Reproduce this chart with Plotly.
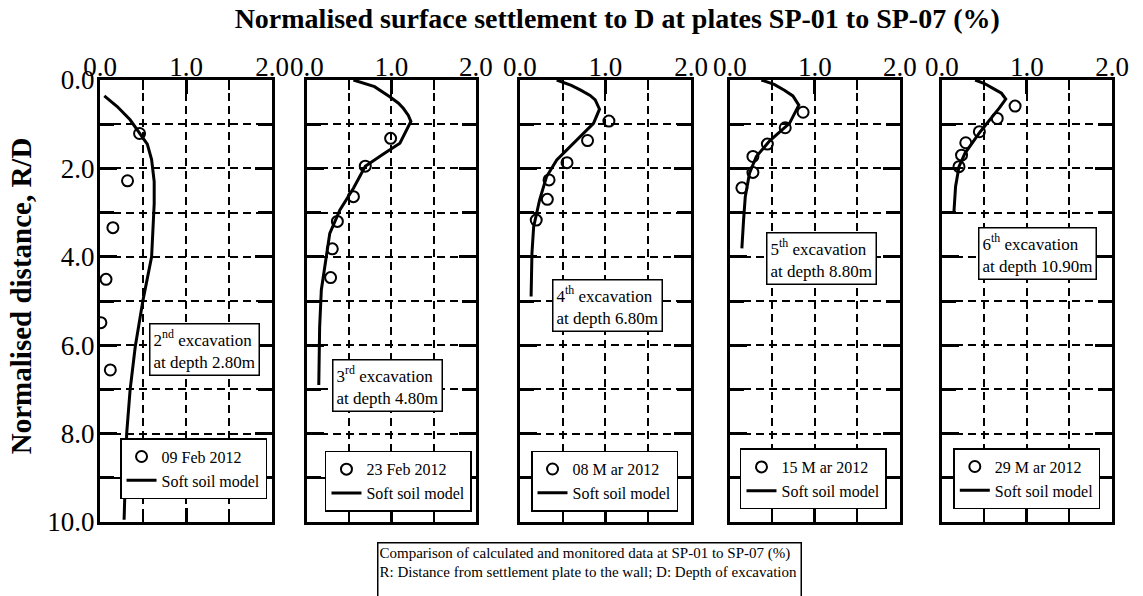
import plotly.graph_objects as go

# measured settlement (x, % of D) vs normalised distance R/D (y)
sp_feb09_x = [0.46, 0.32, 0.15, 0.07, 0.01, 0.12]
sp_feb09_y = [1.21, 2.28, 3.34, 4.51, 5.49, 6.56]
sp_feb23_x = [0.99, 0.69, 0.55, 0.36, 0.30, 0.28]
sp_feb23_y = [1.32, 1.95, 2.64, 3.20, 3.82, 4.47]
sp_mar08_x = [1.04, 0.79, 0.55, 0.34, 0.32, 0.19]
sp_mar08_y = [0.93, 1.37, 1.87, 2.26, 2.70, 3.17]
sp_mar15_x = [0.86, 0.65, 0.44, 0.27, 0.27, 0.14]
sp_mar15_y = [0.73, 1.08, 1.45, 1.73, 2.09, 2.44]
sp_mar29_x = [0.86, 0.65, 0.44, 0.28, 0.23, 0.20]
sp_mar29_y = [0.59, 0.87, 1.17, 1.42, 1.70, 1.96]

# soft soil model curves
ssm_2_x = [0.05, 0.20, 0.35, 0.46, 0.55, 0.60, 0.63, 0.63, 0.60, 0.50, 0.41, 0.35, 0.31, 0.28]
ssm_2_y = [0.36, 0.60, 0.90, 1.20, 1.45, 1.80, 2.30, 2.80, 4.00, 4.98, 6.03, 7.01, 8.00, 9.95]
ssm_3_x = [0.55, 0.80, 0.98, 1.08, 1.14, 1.20, 1.23, 1.10, 0.90, 0.69, 0.55, 0.39, 0.27, 0.22, 0.17, 0.15, 0.14]
ssm_3_y = [0.00, 0.15, 0.38, 0.52, 0.64, 0.80, 0.94, 1.43, 1.68, 1.95, 2.45, 2.94, 3.47, 4.07, 4.75, 5.60, 6.90]
ssm_4_x = [0.43, 0.60, 0.71, 0.82, 0.88, 0.93, 0.86, 0.63, 0.43, 0.31, 0.23, 0.16, 0.14, 0.13]
ssm_4_y = [0.00, 0.12, 0.23, 0.35, 0.45, 0.66, 0.98, 1.43, 1.81, 2.19, 2.71, 3.32, 3.92, 4.90]
ssm_5_x = [0.37, 0.52, 0.64, 0.74, 0.81, 0.70, 0.47, 0.31, 0.23, 0.18, 0.16, 0.14]
ssm_5_y = [0.00, 0.10, 0.23, 0.36, 0.57, 0.98, 1.37, 1.73, 2.11, 2.64, 3.17, 3.81]
ssm_6_x = [0.39, 0.50, 0.60, 0.70, 0.75, 0.68, 0.45, 0.27, 0.20, 0.16, 0.14]
ssm_6_y = [0.00, 0.08, 0.19, 0.30, 0.43, 0.62, 1.17, 1.66, 1.96, 2.41, 3.00]

dates = ["09 Feb 2012", "23 Feb 2012", "08 M ar 2012", "15 M ar 2012", "29 M ar 2012"]
stages = [
    "2<sup>nd</sup> excavation<br>at depth 2.80m",
    "3<sup>rd</sup> excavation<br>at depth 4.80m",
    "4<sup>th</sup> excavation<br>at depth 6.80m",
    "5<sup>th</sup> excavation<br>at depth 8.80m",
    "6<sup>th</sup> excavation<br>at depth 10.90m",
]
stage_pos = [(1.22, 6.1), (0.95, 6.91), (1.02, 5.11), (1.08, 4.03), (1.12, 3.92)]

measured = [
    (sp_feb09_x, sp_feb09_y), (sp_feb23_x, sp_feb23_y), (sp_mar08_x, sp_mar08_y),
    (sp_mar15_x, sp_mar15_y), (sp_mar29_x, sp_mar29_y),
]
model = [(ssm_2_x, ssm_2_y), (ssm_3_x, ssm_3_y), (ssm_4_x, ssm_4_y),
         (ssm_5_x, ssm_5_y), (ssm_6_x, ssm_6_y)]

domains = [(0.0, 0.170), (0.2045, 0.3715), (0.415, 0.584), (0.6225, 0.7905), (0.832, 1.0)]
# legend box centres (paper coords)
legend_pos = [(0.0198, 0.1208), (0.2223, 0.0921), (0.4259, 0.0925), (0.6324, 0.0973), (0.8432, 0.0982)]

FONT = "Liberation Serif, Times New Roman, serif"
DASH = "8px,5px"

fig = go.Figure()
layout = {}
for i in range(5):
    n = "" if i == 0 else str(i + 1)
    lg = "legend" if i == 0 else f"legend{i + 1}"
    mx, my = measured[i]
    cx, cy = model[i]
    fig.add_trace(go.Scatter(
        x=mx, y=my, mode="markers", name=dates[i], legend=lg,
        xaxis=f"x{n}", yaxis=f"y{n}",
        marker=dict(symbol="circle-open", size=11, color="black", line=dict(width=2)),
    ))
    fig.add_trace(go.Scatter(
        x=cx, y=cy, mode="lines", name="Soft soil model", legend=lg,
        xaxis=f"x{n}", yaxis=f"y{n}",
        line=dict(color="black", width=3),
    ))
    layout[f"xaxis{n}"] = dict(
        domain=domains[i], anchor=f"y{n}", side="top", range=[0, 2],
        dtick=1, tickformat=".1f", ticks="inside", ticklen=14, tickwidth=3,
        tickcolor="black", showline=True, linewidth=3, linecolor="black",
        mirror="ticks", showgrid=True, gridcolor="black", gridwidth=1.5,
        griddash=DASH, zeroline=False, ticklabelstandoff=-10,
        tickfont=dict(family=FONT, size=27, color="black"),
        minor=dict(dtick=0.5, ticks="inside", ticklen=10, tickwidth=2,
                   tickcolor="black", showgrid=True, gridcolor="black",
                   gridwidth=1.5, griddash=DASH),
    )
    layout[f"yaxis{n}"] = dict(
        domain=[0, 1], anchor=f"x{n}", range=[10, 0],
        dtick=2, tickformat=".1f", ticks="inside", ticklen=17, tickwidth=3,
        tickcolor="black", showline=True, linewidth=3, linecolor="black",
        mirror="ticks", showgrid=True, gridcolor="black", gridwidth=1.5,
        griddash=DASH, zeroline=False, showticklabels=(i == 0),
        ticklabelstandoff=-3,
        tickfont=dict(family=FONT, size=27, color="black"),
        minor=dict(dtick=1, ticks="inside", ticklen=14, tickwidth=3,
                   tickcolor="black", showgrid=True, gridcolor="black",
                   gridwidth=1.5, griddash=DASH),
    )
    lx, ly = legend_pos[i]
    layout[lg] = dict(
        x=lx, y=ly, xanchor="left", yanchor="middle", bgcolor="white",
        bordercolor="black", borderwidth=1.5, tracegroupgap=0,
        font=dict(family=FONT, size=16, color="black"), itemwidth=30,
    )

annotations = []
for i in range(5):
    n = "" if i == 0 else str(i + 1)
    sx, sy = stage_pos[i]
    annotations.append(dict(
        x=sx, y=sy, xref=f"x{n}", yref=f"y{n}", text=stages[i], showarrow=False,
        align="left", bgcolor="white", bordercolor="black", borderwidth=1.5,
        borderpad=3, font=dict(family=FONT, size=17, color="black"),
    ))

annotations.append(dict(
    x=0.484, y=-0.045, xref="paper", yref="paper", xanchor="center", yanchor="top",
    text="Comparison of calculated and monitored data at SP-01 to SP-07 (%)<br>"
         "R: Distance from settlement plate to the wall; D: Depth of excavation",
    showarrow=False, align="left", valign="top", width=420, height=60,
    bgcolor="white", bordercolor="black", borderwidth=1.5, borderpad=1,
    font=dict(family=FONT, size=15, color="black"),
))

annotations.append(dict(
    x=-0.078, y=0.511, xref="paper", yref="paper", xanchor="center", yanchor="middle",
    text="<b>Normalised distance, R/D</b>", textangle=-90, showarrow=False,
    font=dict(family=FONT, size=29, color="black"),
))

fig.update_layout(
    width=1143, height=596,
    margin=dict(l=100, r=31, t=80, b=74),
    plot_bgcolor="white", paper_bgcolor="white",
    showlegend=True,
    title=dict(
        text="<b>Normalised surface settlement to D at plates SP-01 to SP-07 (%)</b>",
        x=0.54, xanchor="center", y=0.97, yanchor="middle",
        font=dict(family=FONT, size=28, color="black"),
    ),
    annotations=annotations,
    **layout,
)

fig.write_html("out.html", config={"displayModeBar": False},
               post_script="document.body.style.margin='0';")
